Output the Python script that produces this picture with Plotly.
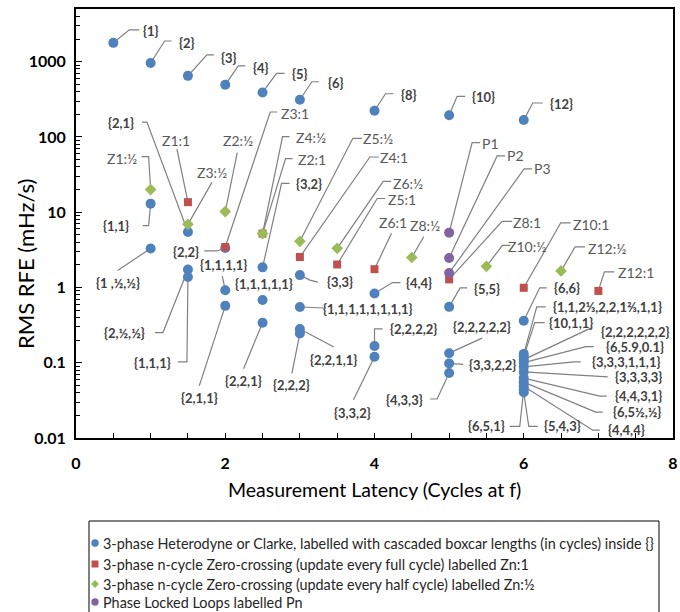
import math
import plotly.graph_objects as go

# ---------------- data ----------------
blue_x = [0.5, 1, 1.5, 2, 2.5, 3, 4, 5, 6,
          1, 1, 1.5, 1.5, 1.5, 2, 2, 2, 2.5, 2.5, 2.5,
          3, 3, 3, 3, 4, 4, 4, 5, 5, 5, 5, 6,
          6, 6, 6, 6, 6, 6, 6, 6, 6, 6, 6]
blue_y = [1780, 960, 648, 493, 390, 312, 223, 194, 168,
          13.0, 3.3, 5.45, 1.73, 1.38, 3.35, 0.92, 0.57, 1.85, 0.68, 0.34,
          1.46, 0.55, 0.28, 0.245, 0.83, 0.167, 0.12, 0.553, 0.134, 0.098, 0.073, 0.361,
          0.131, 0.1206, 0.1099, 0.1001, 0.0881, 0.0754, 0.0626, 0.0552, 0.0488, 0.0444, 0.0405]
blue_labels = ["{1}", "{2}", "{3}", "{4}", "{5}", "{6}", "{8}", "{10}", "{12}",
               "{1,1}", "{1 ,½,½}", "{2,1}", "{2,½,½}", "{1,1,1}", "{2,2}", "{1,1,1,1}", "{2,1,1}",
               "{3,2}", "{1,1,1,1,1}", "{2,2,1}",
               "{3,3}", "{1,1,1,1,1,1,1,1}", "{2,2,1,1}", "{2,2,2}", "{4,4}", "{2,2,2,2}", "{3,3,2}",
               "{5,5}", "{2,2,2,2,2}", "{3,3,2,2}", "{4,3,3}", "{6,6}",
               "{1,1,2⅓,2,2,1⅔,1,1}", "{10,1,1}", "{2,2,2,2,2,2}", "{6,5.9,0.1}", "{3,3,3,1,1,1}",
               "{3,3,3,3}", "{4,4,3,1}", "{6,5½,½}", "{4,4,4}", "{6,5,1}", "{5,4,3}"]

red_x = [1.5, 2, 2.5, 3, 3.5, 4, 5, 6, 7]
red_y = [13.6, 3.45, 5.2, 2.54, 2.02, 1.75, 1.28, 0.99, 0.90]
red_labels = ["Z1:1", "Z3:1", "Z2:1", "Z4:1", "Z5:1", "Z6:1", "Z8:1", "Z10:1", "Z12:1"]

green_x = [1, 1.5, 2, 2.5, 3, 3.5, 4.5, 5.5, 6.5]
green_y = [20, 6.9, 10.2, 5.2, 4.1, 3.31, 2.5, 1.91, 1.66]
green_labels = ["Z1:½", "Z3:½", "Z2:½", "Z4:½", "Z5:½", "Z6:½", "Z8:½", "Z10:½", "Z12:½"]

purple_x = [5, 5, 5]
purple_y = [5.35, 2.47, 1.56]
purple_labels = ["P1", "P2", "P3"]

series_names = [
    "3-phase Heterodyne or Clarke, labelled with cascaded boxcar lengths (in cycles) inside {}",
    "3-phase n-cycle Zero-crossing (update every full cycle) labelled Zn:1",
    "3-phase n-cycle Zero-crossing (update every half cycle) labelled Zn:½",
    "Phase Locked Loops labelled Pn",
]

y_tickvals = [0.01, 0.1, 1, 10, 100, 1000]
y_ticktext = ["0.01", "0.1", "1", "10", "100", "1000"]
x_tickvals = [0, 2, 4, 6, 8]
x_title = "Measurement Latency (Cycles at f)"
y_title = "RMS RFE (mHz/s)"

# ------------- label placement: screen-pixel offsets from the point -------------
# (label centre offset, leader polyline points before reaching the point)
PLACE = {
    "{1}": ((38, -12), [(26, -13), (16, -13)]),
    "{2}": ((36, -20), [(21, -22), (14, -22)]),
    "{3}": ((41, -18), [(26, -21), (19, -21)]),
    "{4}": ((36, -17), [(20, -19), (13, -19)]),
    "{5}": ((37, -18), [(22, -19), (14, -19)]),
    "{6}": ((36, -17), [(19, -18), (12, -18)]),
    "{8}": ((34, -16), [(19, -17), (11, -17)]),
    "{10}": ((34, -18), [(16, -19), (8, -19)]),
    "{12}": ((38, -16), [(19, -17), (9, -17)]),
    "{2,1}": ((-67, -109), [(-46, -110), (-41, -110)]),
    "{1,1}": ((-35, 22), [(-8, 22), (-2, 22)]),
    "{1 ,½,½}": ((-33, 35), [(-33, 22)]),
    "{2,2}": ((-39, 4), [(-21, 3), (-8, 3)]),
    "{2,½,½}": ((-63, 63), [(-33, 63), (-25, 63)]),
    "{1,1,1}": ((-35, 86), [(-10, 85), (-1, 85)]),
    "{1,1,1,1}": ((-2, -25), [(-3, -14)]),
    "{1,1,1,1,1}": ((1, -16), []),
    "{2,1,1}": ((-26, 92), [(-26, 80)]),
    "{3,2}": ((46, -83), [(27, -84), (19, -84)]),
    "{2,2,1}": ((-19, 58), [(-19, 46)]),
    "{3,3}": ((40, 7), [(18, 7), (10, 5)]),
    "{1,1,1,1,1,1,1,1}": ((68, 2), [(24, 1)]),
    "{2,2,1,1}": ((34, 31), [(34, 18)]),
    "{2,2,2}": ((-8, 52), [(-8, 40)]),
    "{4,4}": ((44, -11), [(26, -11), (18, -11)]),
    "{2,2,2,2}": ((39, -17), [(8, -17), (0, -17)]),
    "{3,3,2}": ((-22, 56), [(-21, 43)]),
    "{5,5}": ((38, -18), [(18, -19), (11, -19)]),
    "{2,2,2,2,2}": ((33, -26), [(33, -15)]),
    "{3,3,2,2}": ((43, 2), [(14, 1)]),
    "{4,3,3}": ((-45, 27), [(-19, 26), (-12, 26)]),
    "{6,6}": ((43, -33), [(23, -33), (16, -33)]),
    "{1,1,2⅓,2,2,1⅔,1,1}": ((84, -47), [(22, -47), (13, -47)]),
    "{10,1,1}": ((47, -34), [(21, -34), (11, -34)]),
    "{2,2,2,2,2,2}": ((111, -28), [(68, -32)]),
    "{6,5.9,0.1}": ((111, -16), [(70, -16), (62, -16)]),
    "{3,3,3,1,1,1}": ((102, -5), [(57, -5), (50, -5)]),
    "{3,3,3,3}": ((115, 5), [(84, 5)]),
    "{4,4,3,1}": ((115, 18), [(83, 18), (76, 18)]),
    "{6,5½,½}": ((113, 30), [(79, 30), (72, 30)]),
    "{4,4,4}": ((103, 44), [(76, 44), (69, 44)]),
    "{6,5,1}": ((-37, 37), [(-14, 37), (-4, 37)]),
    "{5,4,3}": ((39, 34), [(14, 34), (5, 34)]),
    "Z1:1": ((-12, -62), [(-11, -53)]),
    "Z3:1": ((70, -134), [(52, -135), (45, -135)]),
    "Z2:1": ((49, -74), [(30, -75), (23, -75)]),
    "Z4:1": ((94, -100), [(79, -100), (70, -100)]),
    "Z5:1": ((65, -65), [(48, -66), (40, -66)]),
    "Z6:1": ((18, -47), [(17, -36)]),
    "Z8:1": ((78, -57), [(63, -58), (53, -58)]),
    "Z10:1": ((67, -63), [(47, -65), (37, -65)]),
    "Z12:1": ((38, -18), [(16, -19), (6, -19)]),
    "Z1:½": ((-29, -31), [(-9, -33), (-2, -33)]),
    "Z3:½": ((24, -52), [(24, -42)]),
    "Z2:½": ((13, -71), [(12, -59)]),
    "Z4:½": ((48, -96), [(27, -97), (20, -97)]),
    "Z5:½": ((78, -103), [(62, -103), (53, -103)]),
    "Z6:½": ((71, -65), [(54, -67), (46, -67)]),
    "Z8:½": ((13, -32), [(12, -21)]),
    "Z10:½": ((41, -20), [(24, -21), (16, -21)]),
    "Z12:½": ((46, -22), [(24, -24), (14, -24)]),
    "P1": ((41, -89), [(31, -90), (23, -90)]),
    "P2": ((66, -102), [(56, -102), (48, -102)]),
    "P3": ((93, -104), [(83, -104), (75, -104)]),
}

FONT = "Lato, 'Liberation Sans', sans-serif"
LEADER = "#808080"
W, H = 680, 612
ML, MR, MT, MB = 76, 7, 9, 174
PW, PH = W - ML - MR, H - MT - MB


def px2paper(px, py):
    return (px - ML) / PW, (H - MB - py) / PH


series = [
    (series_names[0], blue_x, blue_y, blue_labels, "circle", 10, "#4F81BD", True),
    (series_names[1], red_x, red_y, red_labels, "square", 8, "#C0504D", False),
    (series_names[2], green_x, green_y, green_labels, "diamond", 9, "#9BBB59", False),
    (series_names[3], purple_x, purple_y, purple_labels, "circle", 10, "#8064A2", False),
]

fig = go.Figure()
annotations = []
shapes = []
for i, (name, xs, ys, labels, sym, size, color, bold) in enumerate(series):
    fig.add_trace(go.Scatter(
        x=xs, y=ys, mode="markers", name=name, showlegend=False,
        marker=dict(symbol=sym, size=size, color=color, line=dict(width=0)),
        text=labels, hovertemplate="%{text}: (%{x}, %{y})<extra></extra>",
    ))
    for x, y, lab in zip(xs, ys, labels):
        (dx, dy), path = PLACE[lab]
        annotations.append(dict(
            x=x, y=math.log10(y), xref="x", yref="y", text=lab, showarrow=False,
            xshift=dx, yshift=-dy, xanchor="center", yanchor="middle",
            font=dict(family=FONT, size=13 if bold else 14,
                      color="#404040" if bold else "#595959",
                      weight="bold" if bold else "normal"),
        ))
        if path:
            pts = path + [(0, 0)]
            d = "M " + " L ".join(f"{px},{-py}" for px, py in pts)
            shapes.append(dict(
                type="path", xref="x", yref="y", xsizemode="pixel", ysizemode="pixel",
                xanchor=x, yanchor=y, path=d,
                line=dict(color=LEADER, width=1.2), layer="below",
            ))

# ---------------- legend (drawn as a boxed key below the axes) ----------------
bx0, by0 = px2paper(89, 521)
bx1, by1 = px2paper(659, 640)
shapes.append(dict(type="rect", xref="paper", yref="paper", x0=bx0, x1=bx1, y0=by1, y1=by0,
                   line=dict(color="black", width=1), fillcolor="white", layer="above"))
legend_rows = [543, 564, 584, 602]
key_paths = {
    "square": "M -3.5,-3.5 L 3.5,-3.5 L 3.5,3.5 L -3.5,3.5 Z",
    "diamond": "M 0,4 L 4,0 L 0,-4 L -4,0 Z",
}
for (name, xs, ys, labels, sym, size, color, bold), ry in zip(series, legend_rows):
    kx, ky = px2paper(95, ry)
    if sym == "circle":
        shapes.append(dict(type="circle", xref="paper", yref="paper", xsizemode="pixel",
                           ysizemode="pixel", xanchor=kx, yanchor=ky, x0=-3.7, x1=3.7,
                           y0=-3.7, y1=3.7, fillcolor=color, line=dict(width=0), layer="above"))
    else:
        shapes.append(dict(type="path", xref="paper", yref="paper", xsizemode="pixel",
                           ysizemode="pixel", xanchor=kx, yanchor=ky, path=key_paths[sym],
                           fillcolor=color, line=dict(width=0), layer="above"))
    tx, ty = px2paper(101, ry)
    annotations.append(dict(x=tx, y=ty, xref="paper", yref="paper", text=name, showarrow=False,
                            xanchor="left", yanchor="middle",
                            font=dict(family=FONT, size=14.4, color="#262626")))

# axis titles
tx, ty = px2paper(374.5, 490)
annotations.append(dict(x=tx, y=ty, xref="paper", yref="paper", text=x_title, showarrow=False,
                        xanchor="center", yanchor="middle",
                        font=dict(family=FONT, size=19.5, color="black")))
tx, ty = px2paper(25, 264)
annotations.append(dict(x=tx, y=ty, xref="paper", yref="paper", text=y_title, showarrow=False,
                        textangle=-90, xanchor="center", yanchor="middle",
                        font=dict(family=FONT, size=22, color="black")))

fig.update_layout(
    width=W, height=H,
    margin=dict(l=ML, r=MR, t=MT, b=MB, autoexpand=False),
    paper_bgcolor="white", plot_bgcolor="white",
    font=dict(family=FONT, color="black"),
    annotations=annotations, shapes=shapes,
    showlegend=False,
)
fig.update_xaxes(
    range=[0, 8], tickvals=x_tickvals, ticks="inside", ticklen=5, tickwidth=1,
    tickcolor="black", showline=True, linecolor="black", linewidth=2, mirror=True,
    showgrid=False, zeroline=False, automargin=False, ticklabeloverflow="allow",
    tickfont=dict(family=FONT, size=16, color="black", weight="bold"),
    ticklabelstandoff=10,
    minor=dict(dtick=0.5, ticks="inside", ticklen=5, tickcolor="black", showgrid=False),
)
fig.update_yaxes(
    type="log", range=[-2, 3.7], tickvals=y_tickvals, ticktext=y_ticktext,
    ticks="inside", ticklen=6, tickwidth=1, tickcolor="black",
    showline=True, linecolor="black", linewidth=2, mirror=True,
    showgrid=False, zeroline=False, automargin=False, ticklabeloverflow="allow",
    tickfont=dict(family=FONT, size=16, color="black", weight="bold"),
    ticklabelstandoff=5,
    minor=dict(dtick="D1", ticks="inside", ticklen=4, tickcolor="black", showgrid=False),
)

# the page is exactly the figure size: drop the browser's default body margin
fig.write_html("out.html", config={"displayModeBar": False},
               post_script="document.body.style.margin='0';")
